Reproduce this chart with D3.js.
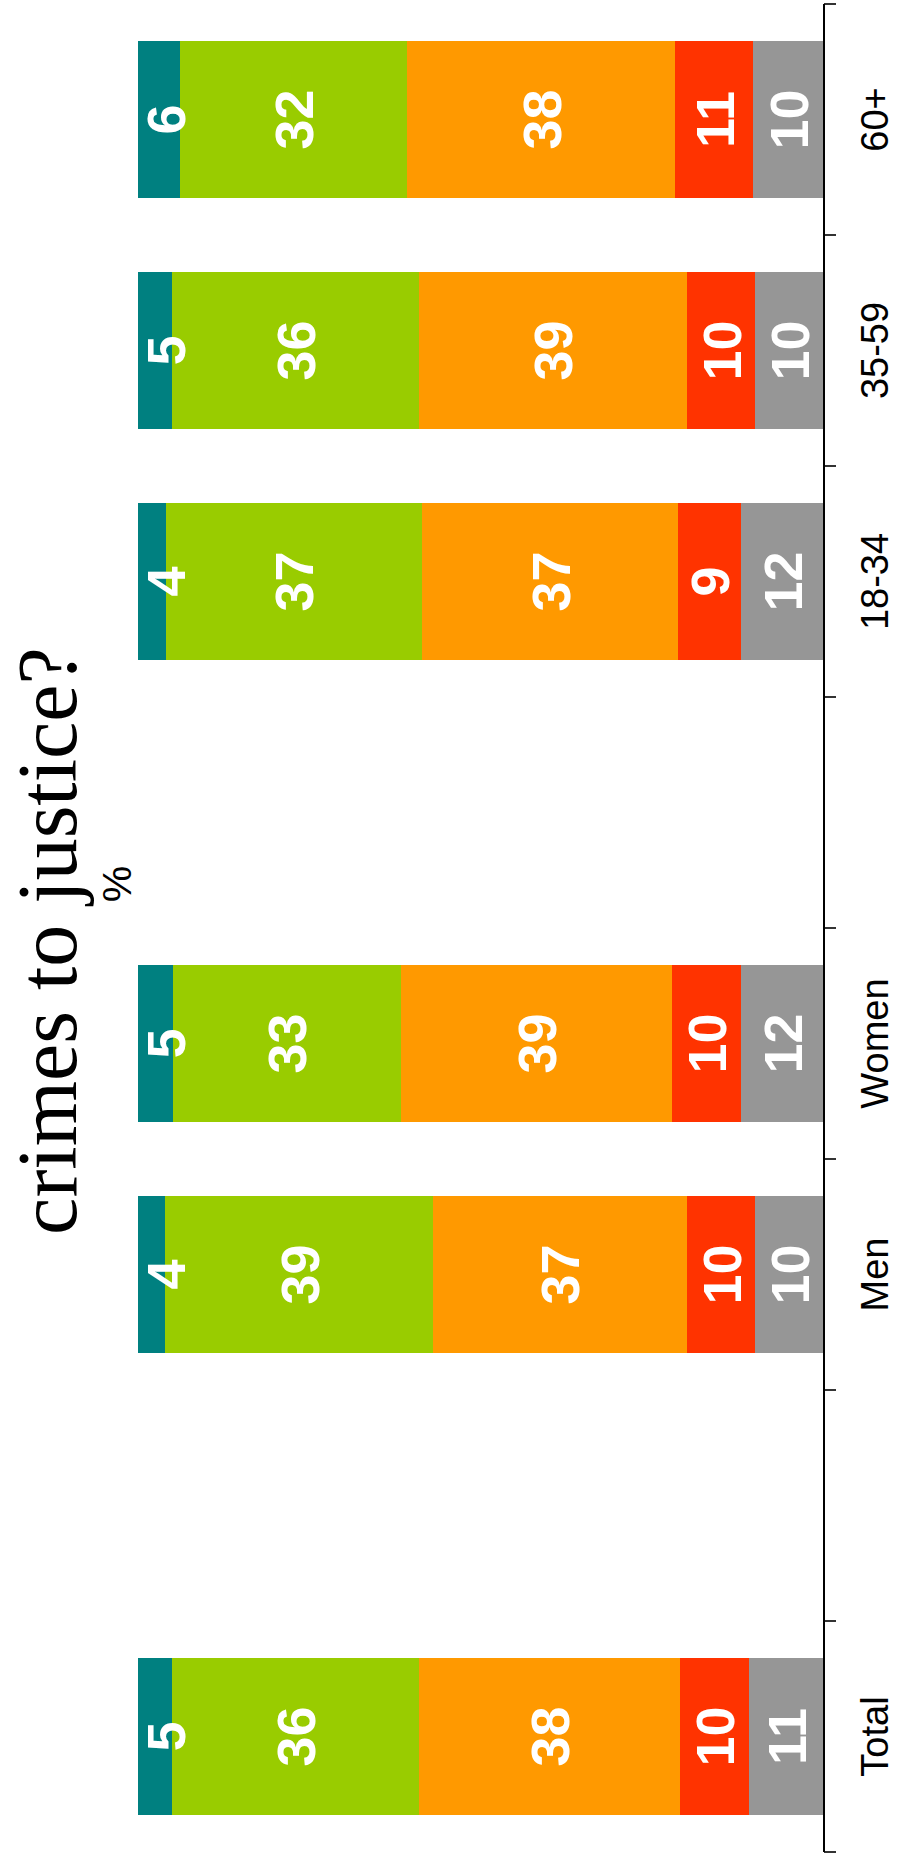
<!DOCTYPE html>
<html>
<head>
<meta charset="utf-8">
<script src="https://cdn.jsdelivr.net/npm/d3@7"></script>
<style>
  html, body { margin: 0; padding: 0; background: #ffffff; }
  svg { display: block; }
</style>
</head>
<body>
<div id="chart"></div>
<script>
// Groups along the category axis (empty entries are spacer slots)
const categories = ["Total", "", "Men", "Women", "", "18-34", "35-59", "60+"];

// Answer shares, listed from the bottom of each stack to the top
const seriesKeys = ["dontKnow", "notAtAll", "notVery", "fairly", "very"];
const dontKnow = [11, null, 10, 12, null, 12, 10, 10];
const notAtAll = [10, null, 10, 10, null, 9, 10, 11];
const notVery  = [38, null, 37, 39, null, 37, 39, 38];
const fairly   = [36, null, 39, 33, null, 37, 36, 32];
const very     = [5, null, 4, 5, null, 4, 5, 6];
const seriesColors = ["#969696", "#FF3300", "#FF9900", "#99CC00", "#008080"];

const titleText = "crimes to justice?";
const unitText = "%";

const W = 897, H = 1854;

// The chart is laid out landscape (H wide, W tall) and turned a quarter-turn
// counter-clockwise onto the portrait page.
const svg = d3.select("#chart").append("svg")
  .attr("width", W).attr("height", H)
  .style("background", "#ffffff");
const g = svg.append("g").attr("transform", `translate(0,${H}) rotate(-90)`);

const seriesData = { dontKnow, notAtAll, notVery, fairly, very };
const rows = categories.map((c, i) => {
  const r = { idx: i, name: c };
  seriesKeys.forEach(k => { r[k] = seriesData[k][i]; });
  return r;
}).filter(r => r.dontKnow != null);

const xRange = [2, 1850];
const x = d3.scaleBand()
  .domain(d3.range(categories.length))
  .range(xRange)
  .paddingInner(0.32)
  .paddingOuter(0.16);
const slot = d3.scaleBand()
  .domain(d3.range(categories.length))
  .range(xRange);

const y = d3.scaleLinear().domain([0, 1]).range([824, 138]);

const stacked = d3.stack()
  .keys(seriesKeys)
  .offset(d3.stackOffsetExpand)(rows);

// stacked columns
const layers = g.selectAll("g.layer")
  .data(stacked)
  .join("g")
  .attr("class", "layer")
  .attr("fill", (d, i) => seriesColors[i]);

layers.selectAll("rect")
  .data(d => d)
  .join("rect")
  .attr("x", d => x(d.data.idx))
  .attr("width", x.bandwidth())
  .attr("y", d => y(d[1]))
  .attr("height", d => y(d[0]) - y(d[1]))
  .attr("shape-rendering", "crispEdges");

// value labels, kept inside the plot area
const half = 28;
const labelLayer = g.append("g");
stacked.forEach(s => {
  labelLayer.selectAll(null)
    .data(s)
    .join("text")
    .attr("x", d => x(d.data.idx) + x.bandwidth() / 2)
    .attr("y", d => {
      let c = (y(d[0]) + y(d[1])) / 2;
      c = Math.max(c, y(1) + half);
      c = Math.min(c, y(0) - half);
      return c;
    })
    .attr("dy", "0.36em")
    .attr("text-anchor", "middle")
    .attr("fill", "#ffffff")
    .style("font-family", "'Liberation Sans', Arial, sans-serif")
    .style("font-weight", "bold")
    .style("font-size", "54px")
    .text(d => d.data[s.key]);
});

// category axis: baseline with ticks between the groups
const axisG = g.append("g");
axisG.append("line")
  .attr("x1", xRange[0]).attr("x2", xRange[1])
  .attr("y1", y(0)).attr("y2", y(0))
  .attr("stroke", "#000").attr("stroke-width", 2);

const tickPos = d3.range(categories.length).map(i => slot(i)).concat([xRange[1]]);
axisG.selectAll("line.tick")
  .data(tickPos)
  .join("line")
  .attr("class", "tick")
  .attr("x1", d => d).attr("x2", d => d)
  .attr("y1", y(0)).attr("y2", y(0) + 12)
  .attr("stroke", "#000").attr("stroke-width", 1.6);

axisG.selectAll("text.cat")
  .data(categories.map((c, i) => ({ c, i })).filter(d => d.c !== ""))
  .join("text")
  .attr("class", "cat")
  .attr("x", d => x(d.i) + x.bandwidth() / 2)
  .attr("y", 888)
  .attr("text-anchor", "middle")
  .attr("fill", "#000")
  .style("font-family", "'Liberation Sans', Arial, sans-serif")
  .style("font-size", "38px")
  .text(d => d.c);

// title and unit note
g.append("text")
  .attr("x", 913).attr("y", 76)
  .attr("text-anchor", "middle")
  .attr("fill", "#000")
  .style("font-family", "'Liberation Serif', 'Times New Roman', serif")
  .style("font-size", "84px")
  .text(titleText);

g.append("text")
  .attr("x", 970).attr("y", 131)
  .attr("text-anchor", "middle")
  .attr("fill", "#000")
  .style("font-family", "'Liberation Sans', Arial, sans-serif")
  .style("font-size", "41px")
  .text(unitText);
</script>
</body>
</html>
